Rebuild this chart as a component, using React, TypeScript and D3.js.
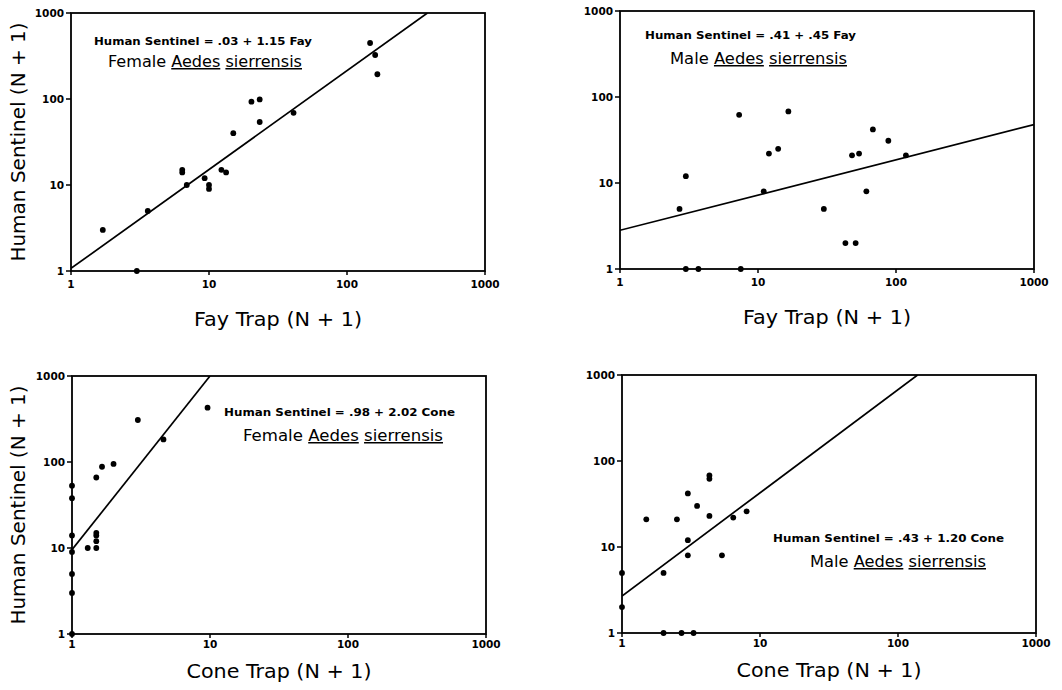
import * as d3 from "d3";

const decadeTicks = [1, 10, 100, 1000];

// [trap (N + 1), human sentinel (N + 1)]
const femaleFay: [number, number][] = [
  [1.7, 3], [3, 1], [3.6, 5], [6.4, 15], [6.4, 14], [6.9, 10], [9.3, 12],
  [10, 10], [10, 9], [12.3, 15], [13.3, 14], [15, 40], [20.3, 93], [23.3, 99],
  [23.3, 54], [41, 69], [147, 448], [160, 325], [166, 194],
];
const maleFay: [number, number][] = [
  [2.7, 5], [3, 12], [3, 1], [3.7, 1], [7.3, 62], [7.5, 1], [11, 8], [12, 22],
  [14, 25], [16.6, 68], [30, 5], [43, 2], [48, 21], [51, 2], [54, 22], [61, 8],
  [68, 42], [88, 31], [118, 21],
];
const femaleCone: [number, number][] = [
  [1, 53], [1, 38], [1, 14], [1, 9], [1, 5], [1, 3], [1, 1], [1.3, 10],
  [1.5, 10], [1.5, 12], [1.5, 14], [1.5, 15], [1.5, 66], [1.65, 88], [2, 95],
  [3, 308], [4.6, 183], [9.6, 428],
];
const maleCone: [number, number][] = [
  [1, 5], [1, 2], [1.5, 21], [2, 5], [2, 1], [2.5, 21], [2.7, 1], [3, 42],
  [3, 12], [3, 8], [3.3, 1], [3.5, 30], [4.3, 68], [4.3, 62], [4.3, 23],
  [5.3, 8], [6.4, 22], [8, 26],
];

// log10(sentinel) = a + b * log10(trap)
const femaleFayFit = [0.03, 1.15];
const maleFayFit = [0.45, 0.41];
const femaleConeFit = [0.98, 2.02];
const maleConeFit = [0.43, 1.2];

const W = 414;
const H = 258;
const font = "'DejaVu Sans', sans-serif";

type PanelProps = {
  id: string;
  left: number;
  top: number;
  data: [number, number][];
  fit: number[];
  equation: string;
  eqX: number; eqY: number; eqLen: number;
  sex: string;
  spX: number; spY: number; spLen: number;
  xTitle: string;
  xTitleLen: number;
  showYTitle: boolean;
  tickGap: number;
  titleGap: number;
};

function Panel(p: PanelProps) {
  const x = d3.scaleLog().domain([1, 1000]).range([0, W]);
  const y = d3.scaleLog().domain([1, 1000]).range([H, 0]);
  const [a, b] = p.fit;
  const xEnd = Math.min(1000, Math.pow(10, (3 - a) / b));
  const fitPts: [number, number][] = [1, xEnd].map((v) => [v, Math.pow(10, a + b * Math.log10(v))]);
  const line = d3.line<[number, number]>().x((d) => x(d[0])).y((d) => y(d[1]));

  return (
    <g transform={`translate(${p.left},${p.top})`} fontFamily={font}>
      <clipPath id={p.id}>
        <rect x={0} y={0} width={W} height={H} />
      </clipPath>
      <rect x={0} y={0} width={W} height={H} fill="none" stroke="#000" strokeWidth={1.8} />
      {decadeTicks.map((t) => (
        <g key={"y" + t}>
          <line x1={-5} x2={0} y1={y(t)} y2={y(t)} stroke="#000" strokeWidth={1.5} />
          <text x={-7} y={y(t)} dy="0.36em" textAnchor="end" fontSize={10.5} fontWeight="bold">{t}</text>
        </g>
      ))}
      {decadeTicks.map((t) => (
        <g key={"x" + t}>
          <line x1={x(t)} x2={x(t)} y1={H} y2={H + 4} stroke="#000" strokeWidth={1.5} />
          <text x={x(t)} y={H + p.tickGap} textAnchor="middle" fontSize={10.5} fontWeight="bold">{t}</text>
        </g>
      ))}
      <path d={line(fitPts) || ""} fill="none" stroke="#000" strokeWidth={1.7} clipPath={`url(#${p.id})`} />
      {p.data.map((d, i) => (
        <circle key={i} cx={x(d[0])} cy={y(d[1])} r={2.9} fill="#000" />
      ))}
      <text x={p.eqX} y={p.eqY} fontSize={10.5} fontWeight="bold" textLength={p.eqLen} lengthAdjust="spacingAndGlyphs">
        {p.equation}
      </text>
      <text x={p.spX} y={p.spY} fontSize={15} textLength={p.spLen} lengthAdjust="spacingAndGlyphs">
        <tspan>{p.sex} </tspan>
        <tspan style={{ textDecoration: "underline" }}>Aedes</tspan>
        <tspan> </tspan>
        <tspan style={{ textDecoration: "underline" }}>sierrensis</tspan>
      </text>
      <text x={W / 2} y={H + p.titleGap} textAnchor="middle" fontSize={20} textLength={p.xTitleLen} lengthAdjust="spacingAndGlyphs">
        {p.xTitle}
      </text>
      {p.showYTitle && (
        <text transform={`translate(${25 - p.left},${H / 2}) rotate(-90)`} textAnchor="middle" fontSize={20}>
          Human Sentinel (N + 1)
        </text>
      )}
    </g>
  );
}

export default function App() {
  return (
    <svg width={1062} height={690} style={{ position: "absolute", left: 0, top: 0, background: "#fff" }}>
      <rect width={1062} height={690} fill="#fff" />
      <Panel id="c1" left={71} top={13} data={femaleFay} fit={femaleFayFit}
        equation="Human Sentinel = .03 + 1.15 Fay" eqX={23} eqY={32} eqLen={218}
        sex="Female" spX={37} spY={54} spLen={194} xTitle="Fay Trap (N + 1)" xTitleLen={168}
        showYTitle={true} tickGap={17} titleGap={55} />
      <Panel id="c2" left={620} top={11} data={maleFay} fit={maleFayFit}
        equation="Human Sentinel = .41 + .45 Fay" eqX={25} eqY={28} eqLen={211}
        sex="Male" spX={50} spY={53} spLen={177} xTitle="Fay Trap (N + 1)" xTitleLen={168}
        showYTitle={false} tickGap={17} titleGap={55} />
      <Panel id="c3" left={72} top={376} data={femaleCone} fit={femaleConeFit}
        equation="Human Sentinel = .98 + 2.02 Cone" eqX={152} eqY={40} eqLen={231}
        sex="Female" spX={171} spY={65} spLen={200} xTitle="Cone Trap (N + 1)" xTitleLen={185}
        showYTitle={true} tickGap={14} titleGap={44} />
      <Panel id="c4" left={622} top={375} data={maleCone} fit={maleConeFit}
        equation="Human Sentinel = .43 + 1.20 Cone" eqX={151} eqY={167} eqLen={231}
        sex="Male" spX={188} spY={192} spLen={176} xTitle="Cone Trap (N + 1)" xTitleLen={185}
        showYTitle={false} tickGap={14} titleGap={44} />
    </svg>
  );
}
